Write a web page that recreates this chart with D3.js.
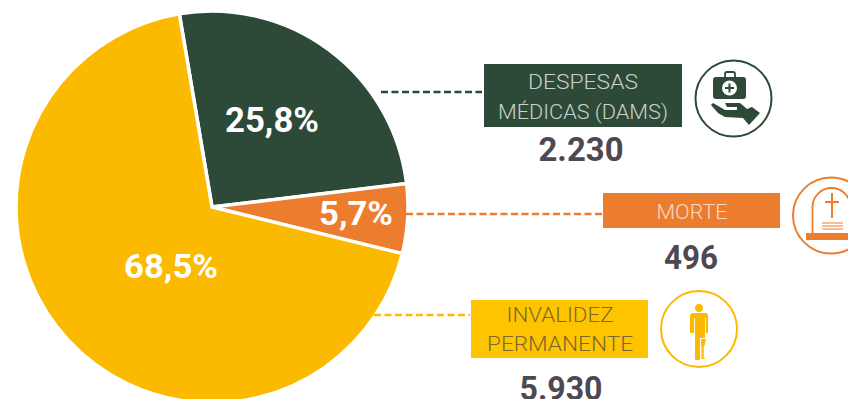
<!DOCTYPE html>
<html><head><meta charset="utf-8">
<script src="https://cdn.jsdelivr.net/npm/d3@7"></script>
<style>html,body{margin:0;padding:0;background:#fff;overflow:hidden}svg{display:block}text{font-family:Roboto,sans-serif}</style>
</head><body><svg id="c" width="848" height="399"></svg>
<script>
const categories = ["DESPESAS MÉDICAS (DAMS)", "MORTE", "INVALIDEZ PERMANENTE"];
const values = [2230, 496, 5930];
const valueLabels = ["2.230", "496", "5.930"];
const percentLabels = ["25,8%", "5,7%", "68,5%"];
const colors = ["#2c4a37", "#ed7d2e", "#fbba00"];

const svg = d3.select("#c");
const cx = 212, cy = 207, R = 196;
const pie = d3.pie().sort(null).value(d => d).startAngle(-9.6 * Math.PI / 180).endAngle((360 - 9.6) * Math.PI / 180);
const arc = d3.arc().innerRadius(0).outerRadius(R);
const arcs = pie(values);
const g = svg.append("g").attr("transform", `translate(${cx},${cy})`);
g.selectAll("path").data(arcs).join("path").attr("d", arc)
  .attr("fill", (d, i) => colors[i]).attr("stroke", "#fff").attr("stroke-width", 3.5).attr("stroke-linejoin", "miter");

// percent labels
const pctPos = [[272, 119, 35, 94], [356, 213, 34, 74], [171, 266, 34, 94]];
percentLabels.forEach((t, i) => {
  svg.append("text").text(t).attr("x", pctPos[i][0]).attr("y", pctPos[i][1]).attr("dy", "0.36em")
    .attr("text-anchor", "middle").attr("fill", "#fff").attr("font-weight", 700)
    .attr("font-size", pctPos[i][2]).attr("textLength", pctPos[i][3]).attr("lengthAdjust", "spacingAndGlyphs");
});

// leader lines
const lines = [[381, 482, 92, 0], [406, 602, 214, 1], [374, 470, 315, 2]];
lines.forEach(l => svg.append("line").attr("x1", l[0]).attr("x2", l[1]).attr("y1", l[2]).attr("y2", l[2])
  .attr("stroke", colors[l[3]]).attr("stroke-width", 2.4).attr("stroke-dasharray", "7 3.5"));

// boxes
const boxFill = ["#2c4a37", "#ed7d2e", "#ffc400"];
const boxes = [[484, 64, 198, 63], [603, 193, 177, 35], [471, 300, 177, 58]];
boxes.forEach((b, i) => svg.append("rect").attr("x", b[0]).attr("y", b[1]).attr("width", b[2]).attr("height", b[3]).attr("fill", boxFill[i]));
const labelLines = [
  [["DESPESAS", 583, 82, 110], ["MÉDICAS (DAMS)", 583, 112, 170]],
  [["MORTE", 692, 212, 71]],
  [["INVALIDEZ", 560, 315, 107], ["PERMANENTE", 560, 344, 146]]
];
const labelColor = ["#c9d1cb", "#fbd9c0", "#7a6a2c"];
labelLines.forEach((ls, i) => ls.forEach(l => svg.append("text").text(l[0]).attr("x", l[1]).attr("y", l[2]).attr("dy", "0.36em")
  .attr("text-anchor", "middle").attr("font-size", 20).attr("font-weight", 300).attr("fill", labelColor[i])
  .attr("textLength", l[3]).attr("lengthAdjust", "spacingAndGlyphs")));

// values
const valPos = [[581, 149, 85], [691, 257, 54], [561, 388, 83]];
valueLabels.forEach((t, i) => svg.append("text").text(t).attr("x", valPos[i][0]).attr("y", valPos[i][1]).attr("dy", "0.36em")
  .attr("text-anchor", "middle").attr("font-size", 34).attr("font-weight", 700).attr("fill", "#4f4850")
  .attr("textLength", valPos[i][2]).attr("lengthAdjust", "spacingAndGlyphs"));

// icon circles
const icons = [[733.500, 98.500, 0], [831, 215.500, 1], [699, 329, 2]];
icons.forEach(c => svg.append("circle").attr("cx", c[0]).attr("cy", c[1]).attr("r", 38).attr("fill", "#fff").attr("stroke", colors[c[2]]).attr("stroke-width", 2));

// medical kit + hand
const k = svg.append("g").attr("fill", colors[0]);
k.append("rect").attr("x", 713).attr("y", 77).attr("width", 33).attr("height", 22).attr("rx", 3);
k.append("path").attr("d", "M725 77v-3a2 2 0 0 1 2-2h6a2 2 0 0 1 2 2v3").attr("fill", "none").attr("stroke", colors[0]).attr("stroke-width", 1.8);
k.append("circle").attr("cx", 729.500).attr("cy", 88).attr("r", 7.5).attr("fill", "#fff");
k.append("path").attr("d", "M728.500 83.500h2v3.500h3.500v2h-3.500v3.500h-2V89H725v-2h3.500z");
k.append("path").attr("d", "M725 103L740 103L747 109L752 107L760 113L749 125L743 118L725 117L718 113L711 105L713 103L725 110L737 110L737 107L727 107z");

// tombstone
const o = colors[1];
const t = svg.append("g");
t.append("path").attr("d", "M812.500 234v-27a19 19 0 0 1 38 0v27").attr("fill", "none").attr("stroke", o).attr("stroke-width", 1.8);
t.append("rect").attr("x", 806).attr("y", 233).attr("width", 42).attr("height", 7).attr("fill", o);
t.append("path").attr("d", "M832 193v25M825 202h14").attr("stroke", o).attr("stroke-width", 2).attr("fill", "none");
t.append("path").attr("d", "M822 223h21M822 226h21M822 229h21").attr("stroke", o).attr("stroke-width", 1).attr("fill", "none");

// person with prosthetic leg
const y = colors[2];
const p = svg.append("g").attr("fill", y);
p.append("circle").attr("cx", 699).attr("cy", 308).attr("r", 4);
p.append("path").attr("d", "M693 313h12a3 3 0 0 1 3 3v17h-2.200v-15h-0.800v20h-5v20.500a1.500 1.500 0 0 1-1.500 1.500h-2a1.500 1.500 0 0 1-1.500-1.500V318h-0.800v15H690v-17a3 3 0 0 1 3-3z");
p.append("path").attr("d", "M701 339h5l-1.500 7h-0.800v12h1.300v1h-3.500v-13h-0.500z");
</script></body></html>
